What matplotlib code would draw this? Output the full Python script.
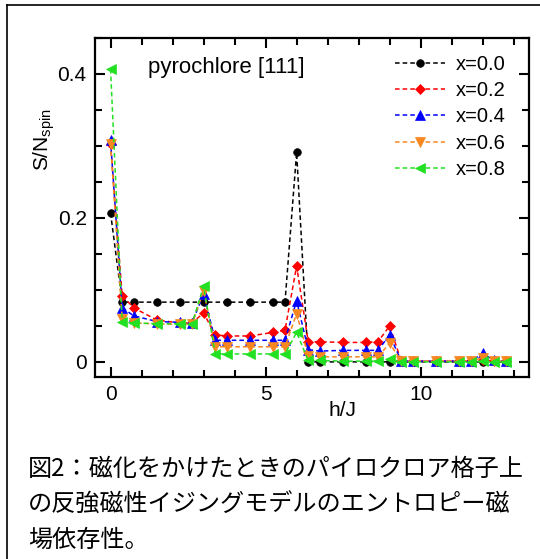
import matplotlib
matplotlib.use("Agg")
import matplotlib.pyplot as plt
from matplotlib.lines import Line2D
from matplotlib.ticker import MultipleLocator

plt.rcParams['font.family'] = ['Liberation Sans', 'DejaVu Sans']
plt.rcParams['mathtext.fontset'] = 'custom'
plt.rcParams['mathtext.rm'] = 'Liberation Sans'
plt.rcParams['mathtext.it'] = 'Liberation Sans'

# field values h/J
h_pure = [0, 0.375, 0.75, 1.5, 2.25, 3, 3.75, 4.5, 5.25, 5.625, 6, 6.375, 6.75,
          7.5, 8.25, 9, 9.75, 10.5, 11.25, 12, 12.75]
h_doped = [0, 0.375, 0.75, 1.5, 2.25, 2.625, 3, 3.375, 3.75, 4.5, 5.25, 5.625, 6,
           6.375, 6.75, 7.5, 8.25, 8.625, 9, 9.375, 9.75, 10.5, 11.25, 11.625, 12,
           12.375, 12.75]

# entropy per spin
s_x00 = [0.207, 0.083, 0.083, 0.083, 0.083, 0.083, 0.083, 0.083, 0.083, 0.083,
         0.291, 0.0, 0.0, 0.0, 0.0, 0.0, 0.0, 0.0, 0.0, 0.0, 0.0]
s_x02 = [0.303, 0.092, 0.075, 0.058, 0.054, 0.054, 0.068, 0.0375, 0.036, 0.036,
         0.041, 0.044, 0.133, 0.028, 0.028, 0.027, 0.027, 0.028, 0.050, 0.001,
         0.001, 0.001, 0.001, 0.001, 0.003, 0.001, 0.001]
s_x04 = [0.308, 0.075, 0.064, 0.056, 0.055, 0.054, 0.094, 0.030, 0.030, 0.030,
         0.030, 0.030, 0.085, 0.017, 0.015, 0.016, 0.016, 0.016, 0.0375, 0.001,
         0.001, 0.001, 0.001, 0.001, 0.012, 0.002, 0.001]
s_x06 = [0.303, 0.060, 0.054, 0.053, 0.052, 0.052, 0.099, 0.021, 0.021, 0.021,
         0.021, 0.021, 0.067, 0.008, 0.007, 0.007, 0.007, 0.007, 0.026, 0.001,
         0.001, 0.001, 0.001, 0.001, 0.006, 0.001, 0.001]
s_x08 = [0.407, 0.055, 0.054, 0.053, 0.053, 0.053, 0.105, 0.011, 0.011, 0.011,
         0.011, 0.011, 0.041, 0.002, 0.002, 0.001, 0.001, 0.001, 0.004, 0.0,
         0.0, 0.0, 0.0, 0.0, 0.001, 0.0, 0.0]

labels = ['x=0.0', 'x=0.2', 'x=0.4', 'x=0.6', 'x=0.8']
colors = ['#000000', '#ff0000', '#0000ff', '#f7871e', '#22e022']
markers = ['o', 'D', '^', 'v', '<']
sizes = [5.5, 5.5, 6.5, 6.5, 6.5]

caption = ['図2：磁化をかけたときのパイロクロア格子上',
           'の反強磁性イジングモデルのエントロピー磁',
           '場依存性。']

fig = plt.figure(figsize=(5.4, 5.59), dpi=100)
ax = fig.add_axes([0.176, 0.3256, 0.804, 0.6064])

series = [(h_pure, s_x00), (h_doped, s_x02), (h_doped, s_x04),
          (h_doped, s_x06), (h_doped, s_x08)]
for (hx, sy), lab, c, m, ms in zip(series, labels, colors, markers, sizes):
    ax.plot(hx, sy, linestyle=(0, (3, 2)), linewidth=1.1, color=c,
            marker=m, markersize=ms, markeredgewidth=0.5, label=lab)

ax.set_xlim(-0.5, 13.5)
ax.set_ylim(-0.021, 0.45)
ax.xaxis.set_major_locator(MultipleLocator(5))
ax.xaxis.set_minor_locator(MultipleLocator(1))
ax.yaxis.set_major_locator(MultipleLocator(0.2))
ax.yaxis.set_minor_locator(MultipleLocator(0.05))
ax.set_xticks([0, 5, 10])
ax.set_xticklabels(['0', '5', '10'])
ax.set_yticks([0, 0.2, 0.4])
ax.set_yticklabels(['0', '0.2', '0.4'])
ax.tick_params(which='both', direction='in', top=True, right=True, width=1.5,
               labelsize=15)
ax.tick_params(which='major', length=7, pad=6)
ax.tick_params(which='minor', length=5)
for sp in ax.spines.values():
    sp.set_linewidth(1.6)

ax.set_xlabel('h/J', fontsize=15)
ax.xaxis.set_label_coords(0.569, -0.072)
ax.set_ylabel(r'S/N$_{\mathrm{spin}}$', fontsize=15)
ax.yaxis.set_label_coords(-0.088, 0.70)

ax.text(0.122, 0.914, 'pyrochlore [111]', transform=ax.transAxes,
        fontsize=16, ha='left', va='center')

ax.legend(loc='upper left', bbox_to_anchor=(0.691, 0.950), frameon=False,
          fontsize=14.5, handlelength=2.5, handletextpad=0.5, labelspacing=0.36,
          borderpad=0, borderaxespad=0, numpoints=1)

# outer frame (top and left edges)
fig.add_artist(Line2D([7 / 540, 1.0], [1 - 5 / 559, 1 - 5 / 559],
                      transform=fig.transFigure, color='black', linewidth=1.2))
fig.add_artist(Line2D([7 / 540, 7 / 540], [0.0, 1 - 5 / 559],
                      transform=fig.transFigure, color='black', linewidth=1.2))

for i, line in enumerate(caption):
    ycen = [469, 505, 540][i]
    fig.text(28 / 540, 1 - ycen / 559, line, fontsize=17.4,
             family=['Noto Sans CJK JP', 'DejaVu Sans'], ha='left', va='center')

fig.savefig('out.png', dpi=100)
